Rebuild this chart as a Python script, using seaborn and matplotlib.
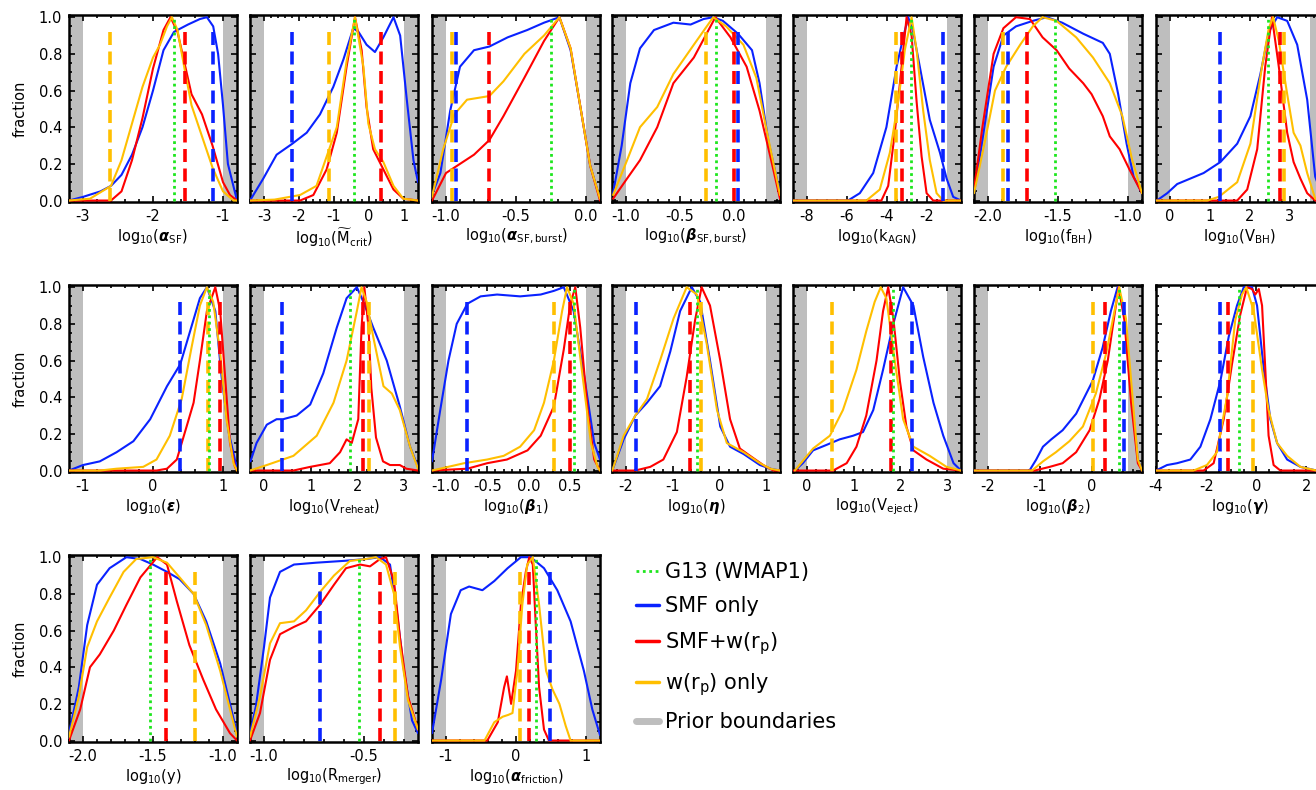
import pandas as pd
import seaborn as sns
import matplotlib.pyplot as plt
from matplotlib.lines import Line2D
from matplotlib.ticker import AutoMinorLocator, FormatStrFormatter

sns.set_theme(style="ticks")
plt.rcParams["font.family"] = ["DejaVu Sans"]
plt.rcParams["mathtext.fontset"] = "dejavusans"
for key in ["text.color", "axes.labelcolor", "xtick.color", "ytick.color", "axes.edgecolor"]:
    plt.rcParams[key] = "black"

# --- posterior curves: (x, fraction) ---
# runs: SMF only (blue), SMF+w(rp) (red), w(rp) only (orange)
ASF_SMF = [(-3.2, 0.0), (-3.0, 0.02), (-2.75, 0.05), (-2.6, 0.08), (-2.45, 0.14), (-2.3, 0.25), (-2.15, 0.40),
           (-2.0, 0.60), (-1.85, 0.82), (-1.7, 0.92), (-1.5, 0.96), (-1.33, 0.99), (-1.23, 1.0), (-1.14, 0.95),
           (-1.07, 0.8), (-1.0, 0.52), (-0.93, 0.2), (-0.8, 0.0)]
ASF_BOTH = [(-3.2, 0.0), (-2.6, 0.0), (-2.45, 0.05), (-2.3, 0.22), (-2.15, 0.45), (-2.0, 0.72), (-1.85, 0.93),
            (-1.75, 1.0), (-1.65, 0.92), (-1.55, 0.75), (-1.45, 0.58), (-1.3, 0.47), (-1.15, 0.30), (-1.0, 0.10),
            (-0.9, 0.03), (-0.8, 0.0)]
ASF_WRP = [(-3.2, 0.0), (-2.9, 0.01), (-2.6, 0.08), (-2.45, 0.22), (-2.3, 0.42), (-2.15, 0.62), (-2.0, 0.78),
           (-1.9, 0.85), (-1.8, 0.95), (-1.73, 1.0), (-1.65, 0.93), (-1.55, 0.72), (-1.45, 0.52), (-1.3, 0.35),
           (-1.15, 0.18), (-1.0, 0.05), (-0.85, 0.0), (-0.8, 0.0)]
ASF_LINES = [-1.70, -1.14, -1.54, -2.61]  # G13, SMF, SMF+w, w

MCRIT_SMF = [(-3.4, 0.0), (-3.02, 0.12), (-2.64, 0.25), (-2.19, 0.31), (-1.78, 0.37), (-1.4, 0.47), (-1.02, 0.62),
             (-0.73, 0.77), (-0.45, 0.94), (-0.3, 0.92), (-0.07, 0.85), (0.17, 0.81), (0.41, 0.89), (0.70, 1.0),
             (0.89, 0.9), (1.08, 0.55), (1.27, 0.22), (1.4, 0.1)]
MCRIT_BOTH = [(-3.4, 0.0), (-1.97, 0.0), (-1.59, 0.03), (-1.21, 0.17), (-0.92, 0.37), (-0.64, 0.73), (-0.4, 1.0),
              (-0.21, 0.82), (-0.07, 0.51), (0.12, 0.28), (0.41, 0.17), (0.7, 0.06), (0.98, 0.01), (1.4, 0.0)]
MCRIT_WRP = [(-3.4, 0.0), (-2.7, 0.005), (-1.97, 0.03), (-1.5, 0.08), (-1.21, 0.24), (-0.92, 0.40), (-0.64, 0.76),
             (-0.4, 1.0), (-0.16, 0.73), (-0.02, 0.42), (0.17, 0.28), (0.41, 0.21), (0.7, 0.08), (0.98, 0.01),
             (1.4, 0.0)]
MCRIT_LINES = [-0.42, -2.19, 0.34, -1.13]

ASB_SMF = [(-1.1, 0.03), (-1.04, 0.15), (-0.97, 0.49), (-0.9, 0.73), (-0.8, 0.82), (-0.69, 0.84), (-0.56, 0.89),
           (-0.42, 0.93), (-0.3, 0.97), (-0.19, 1.0), (-0.11, 0.82), (-0.04, 0.51), (0.03, 0.19), (0.1, 0.01)]
ASB_BOTH = [(-1.1, 0.0), (-1.0, 0.15), (-0.92, 0.19), (-0.8, 0.25), (-0.69, 0.33), (-0.59, 0.46), (-0.44, 0.67),
            (-0.3, 0.87), (-0.19, 1.0), (-0.11, 0.83), (-0.04, 0.51), (0.03, 0.19), (0.1, 0.0)]
ASB_WRP = [(-1.1, 0.02), (-1.02, 0.28), (-0.94, 0.47), (-0.85, 0.55), (-0.69, 0.57), (-0.59, 0.65), (-0.44, 0.80),
           (-0.3, 0.90), (-0.19, 1.0), (-0.11, 0.83), (-0.04, 0.51), (0.03, 0.19), (0.1, 0.01)]
ASB_LINES = [-0.25, -0.93, -0.69, -0.96]

BSB_SMF = [(-1.12, 0.04), (-1.04, 0.30), (-0.96, 0.64), (-0.87, 0.83), (-0.74, 0.93), (-0.56, 0.97), (-0.40, 0.96),
           (-0.28, 0.99), (-0.19, 1.0), (-0.10, 0.98), (0.04, 0.91), (0.17, 0.82), (0.24, 0.64), (0.32, 0.33),
           (0.43, 0.04)]
BSB_BOTH = [(-1.12, 0.01), (-0.99, 0.12), (-0.87, 0.22), (-0.71, 0.40), (-0.56, 0.64), (-0.37, 0.78), (-0.17, 1.0),
            (-0.03, 0.89), (0.12, 0.73), (0.24, 0.49), (0.34, 0.24), (0.43, 0.01)]
BSB_WRP = [(-1.12, 0.03), (-0.99, 0.22), (-0.87, 0.40), (-0.71, 0.51), (-0.56, 0.69), (-0.37, 0.85), (-0.19, 1.0),
           (-0.07, 0.95), (0.09, 0.85), (0.21, 0.67), (0.31, 0.37), (0.43, 0.03)]
BSB_LINES = [-0.16, 0.04, 0.0, -0.26]

KAGN_SMF = [(-8.7, 0.0), (-5.95, 0.0), (-5.36, 0.04), (-4.69, 0.15), (-4.03, 0.40), (-3.52, 0.73), (-3.19, 0.89),
            (-2.94, 1.0), (-2.69, 0.92), (-2.36, 0.73), (-1.86, 0.44), (-1.35, 0.26), (-1.02, 0.12), (-0.69, 0.02),
            (-0.3, 0.0)]
KAGN_BOTH = [(-8.7, 0.0), (-4.28, 0.0), (-3.94, 0.08), (-3.61, 0.37), (-3.27, 0.73), (-3.02, 1.0), (-2.77, 0.9),
             (-2.52, 0.54), (-2.27, 0.24), (-2.02, 0.04), (-1.69, 0.0), (-0.3, 0.0)]
KAGN_WRP = [(-8.7, 0.0), (-5.03, 0.0), (-4.36, 0.06), (-3.86, 0.26), (-3.44, 0.54), (-3.11, 0.82), (-2.77, 1.0),
            (-2.52, 0.82), (-2.19, 0.49), (-1.86, 0.22), (-1.52, 0.04), (-1.19, 0.0), (-0.3, 0.0)]
KAGN_LINES = [-2.82, -1.19, -3.24, -3.56]

FBH_SMF = [(-2.1, 0.04), (-2.04, 0.33), (-1.96, 0.73), (-1.89, 0.90), (-1.80, 0.95), (-1.68, 0.98), (-1.58, 1.0),
           (-1.47, 0.97), (-1.32, 0.91), (-1.18, 0.86), (-1.13, 0.80), (-1.07, 0.58), (-1.01, 0.31), (-0.96, 0.13),
           (-0.9, 0.04)]
FBH_BOTH = [(-2.1, 0.06), (-2.04, 0.40), (-1.96, 0.80), (-1.89, 0.94), (-1.80, 1.0), (-1.70, 0.99), (-1.61, 0.89),
            (-1.51, 0.82), (-1.42, 0.72), (-1.32, 0.64), (-1.26, 0.58), (-1.18, 0.46), (-1.13, 0.35), (-1.06, 0.28),
            (-0.99, 0.17), (-0.9, 0.04)]
FBH_WRP = [(-2.1, 0.04), (-2.02, 0.33), (-1.95, 0.60), (-1.87, 0.73), (-1.77, 0.85), (-1.68, 0.95), (-1.61, 1.0),
           (-1.51, 0.98), (-1.37, 0.89), (-1.25, 0.78), (-1.13, 0.64), (-1.04, 0.46), (-0.97, 0.22), (-0.9, 0.04)]
FBH_LINES = [-1.52, -1.86, -1.72, -1.89]

VBH_SMF = [(-0.33, 0.0), (-0.07, 0.04), (0.18, 0.09), (0.51, 0.12), (0.84, 0.15), (1.26, 0.21), (1.68, 0.31),
           (2.01, 0.46), (2.26, 0.69), (2.47, 0.92), (2.68, 1.0), (2.93, 0.98), (3.18, 0.85), (3.43, 0.55),
           (3.63, 0.13), (3.85, 0.0)]
VBH_BOTH = [(-0.35, 0.0), (1.68, 0.0), (1.93, 0.06), (2.18, 0.28), (2.38, 0.73), (2.55, 1.0), (2.72, 0.73),
            (2.93, 0.37), (3.09, 0.21), (3.26, 0.12), (3.43, 0.04), (3.63, 0.0), (3.85, 0.0)]
VBH_WRP = [(-0.35, 0.0), (0.93, 0.0), (1.22, 0.02), (1.68, 0.10), (2.01, 0.31), (2.3, 0.73), (2.47, 0.94),
           (2.58, 1.0), (2.72, 0.87), (2.93, 0.58), (3.09, 0.37), (3.26, 0.30), (3.43, 0.15), (3.63, 0.01),
           (3.85, 0.0)]
VBH_LINES = [2.45, 1.26, 2.76, 2.86]

EPS_SMF = [(-1.2, 0.0), (-1.0, 0.03), (-0.76, 0.05), (-0.52, 0.10), (-0.28, 0.16), (-0.04, 0.28), (0.2, 0.46),
           (0.39, 0.58), (0.53, 0.76), (0.67, 0.94), (0.77, 1.0), (0.89, 0.87), (0.98, 0.51), (1.08, 0.21),
           (1.2, 0.01)]
EPS_BOTH = [(-1.2, 0.0), (0.05, 0.0), (0.2, 0.01), (0.34, 0.06), (0.48, 0.24), (0.58, 0.37), (0.67, 0.60),
            (0.77, 0.87), (0.89, 1.0), (0.96, 0.87), (1.03, 0.51), (1.1, 0.15), (1.17, 0.02), (1.2, 0.0)]
EPS_WRP = [(-1.2, 0.0), (-0.76, 0.0), (-0.52, 0.01), (-0.14, 0.02), (0.05, 0.06), (0.24, 0.19), (0.41, 0.39),
           (0.55, 0.67), (0.67, 0.90), (0.77, 1.0), (0.86, 0.92), (0.96, 0.64), (1.05, 0.28), (1.15, 0.04),
           (1.2, 0.0)]
EPS_LINES = [0.80, 0.39, 0.96, 0.79]

VRH_SMF = [(-0.29, 0.05), (-0.16, 0.15), (0.06, 0.25), (0.27, 0.28), (0.41, 0.28), (0.7, 0.30), (0.99, 0.36),
           (1.27, 0.53), (1.56, 0.78), (1.77, 0.94), (1.99, 1.0), (2.13, 0.92), (2.34, 0.78), (2.63, 0.6),
           (2.91, 0.35), (3.13, 0.13), (3.3, 0.02)]
VRH_BOTH = [(-0.3, 0.0), (0.63, 0.0), (0.99, 0.02), (1.41, 0.04), (1.63, 0.10), (1.77, 0.17), (1.88, 0.15),
            (2.02, 0.28), (2.09, 0.78), (2.15, 1.0), (2.24, 0.78), (2.3, 0.45), (2.4, 0.18), (2.55, 0.05),
            (2.7, 0.03), (2.91, 0.03), (3.05, 0.01), (3.3, 0.0)]
VRH_WRP = [(-0.3, 0.0), (0.06, 0.03), (0.63, 0.08), (1.13, 0.19), (1.49, 0.37), (1.77, 0.60), (1.99, 0.87),
           (2.09, 1.0), (2.2, 0.92), (2.34, 0.73), (2.56, 0.46), (2.74, 0.42), (2.91, 0.33), (3.13, 0.13),
           (3.3, 0.01)]
VRH_LINES = [1.84, 0.38, 2.13, 2.24]

B1_SMF = [(-1.17, 0.05), (-1.07, 0.33), (-0.97, 0.60), (-0.87, 0.80), (-0.74, 0.91), (-0.58, 0.95), (-0.38, 0.96),
          (-0.10, 0.95), (0.15, 0.96), (0.31, 0.98), (0.43, 1.0), (0.55, 0.87), (0.68, 0.51), (0.80, 0.15),
          (0.87, 0.06)]
B1_BOTH = [(-1.17, 0.0), (-0.74, 0.01), (-0.5, 0.04), (-0.26, 0.06), (-0.01, 0.11), (0.15, 0.19), (0.31, 0.35),
           (0.43, 0.66), (0.51, 0.91), (0.57, 1.0), (0.63, 0.78), (0.72, 0.33), (0.80, 0.06), (0.87, 0.0)]
B1_WRP = [(-1.17, 0.0), (-0.78, 0.04), (-0.50, 0.06), (-0.30, 0.08), (-0.10, 0.13), (0.07, 0.22), (0.19, 0.37),
          (0.31, 0.60), (0.41, 0.87), (0.47, 1.0), (0.55, 0.91), (0.66, 0.51), (0.76, 0.15), (0.84, 0.02),
          (0.87, 0.0)]
B1_LINES = [0.55, -0.74, 0.51, 0.31]

ETA_SMF = [(-2.3, 0.0), (-2.28, 0.01), (-2.05, 0.17), (-1.8, 0.30), (-1.55, 0.37), (-1.27, 0.46), (-1.05, 0.65),
           (-0.84, 0.87), (-0.59, 1.0), (-0.41, 0.92), (-0.2, 0.60), (0.02, 0.24), (0.23, 0.13), (0.52, 0.09),
           (0.87, 0.03), (1.09, 0.01), (1.3, 0.0)]
ETA_BOTH = [(-2.3, 0.0), (-1.8, 0.0), (-1.48, 0.02), (-1.2, 0.06), (-0.91, 0.21), (-0.70, 0.51), (-0.52, 0.82),
            (-0.38, 1.0), (-0.2, 0.90), (0.02, 0.60), (0.23, 0.28), (0.44, 0.12), (0.66, 0.08), (0.94, 0.03),
            (1.16, 0.0), (1.3, 0.0)]
ETA_WRP = [(-2.3, 0.0), (-2.28, 0.01), (-2.05, 0.19), (-1.8, 0.30), (-1.55, 0.39), (-1.27, 0.60), (-0.98, 0.83),
           (-0.70, 1.0), (-0.48, 0.96), (-0.27, 0.69), (-0.05, 0.33), (0.16, 0.15), (0.52, 0.10), (0.87, 0.04),
           (1.09, 0.01), (1.3, 0.0)]
ETA_LINES = [-0.48, -1.79, -0.62, -0.40]

VEJ_SMF = [(-0.26, 0.0), (-0.09, 0.04), (0.13, 0.11), (0.42, 0.14), (0.70, 0.17), (0.99, 0.19), (1.2, 0.21),
           (1.42, 0.33), (1.63, 0.55), (1.85, 0.80), (2.06, 1.0), (2.28, 0.90), (2.49, 0.62), (2.71, 0.37),
           (2.92, 0.19), (3.14, 0.04), (3.3, 0.0)]
VEJ_BOTH = [(-0.3, 0.0), (0.56, 0.0), (0.85, 0.04), (1.06, 0.13), (1.27, 0.30), (1.49, 0.60), (1.63, 0.87),
            (1.74, 1.0), (1.85, 0.83), (1.99, 0.49), (2.13, 0.24), (2.28, 0.11), (2.56, 0.06), (2.92, 0.01),
            (3.3, 0.0)]
VEJ_WRP = [(-0.26, 0.0), (0.13, 0.12), (0.49, 0.19), (0.77, 0.33), (1.06, 0.55), (1.27, 0.76), (1.45, 0.92),
           (1.58, 1.0), (1.7, 0.94), (1.88, 0.60), (2.06, 0.28), (2.28, 0.13), (2.63, 0.08), (2.99, 0.02),
           (3.3, 0.0)]
VEJ_LINES = [1.85, 2.26, 1.81, 0.54]

B2_SMF = [(-2.27, 0.0), (-1.2, 0.0), (-1.07, 0.06), (-0.94, 0.13), (-0.78, 0.17), (-0.56, 0.22), (-0.30, 0.31),
          (0.02, 0.49), (0.21, 0.67), (0.37, 0.87), (0.5, 1.0), (0.63, 0.87), (0.76, 0.42), (0.89, 0.06),
          (0.97, 0.0)]
B2_BOTH = [(-2.27, 0.0), (-1.1, 0.0), (-0.81, 0.02), (-0.56, 0.04), (-0.30, 0.10), (-0.04, 0.22), (0.15, 0.39),
           (0.31, 0.60), (0.44, 0.85), (0.52, 1.0), (0.63, 0.82), (0.76, 0.37), (0.89, 0.04), (0.97, 0.0)]
B2_WRP = [(-2.27, 0.0), (-1.15, 0.0), (-0.94, 0.05), (-0.69, 0.10), (-0.43, 0.16), (-0.17, 0.24), (0.08, 0.42),
          (0.28, 0.64), (0.44, 0.87), (0.53, 1.0), (0.66, 0.83), (0.79, 0.39), (0.89, 0.06), (0.97, 0.0)]
B2_LINES = [0.53, 0.62, 0.26, 0.02]

GAM_SMF = [(-4.0, 0.0), (-3.56, 0.03), (-3.16, 0.04), (-2.63, 0.06), (-2.23, 0.13), (-1.83, 0.28), (-1.43, 0.49),
           (-1.1, 0.73), (-0.77, 0.90), (-0.5, 1.0), (-0.17, 1.0), (0.03, 0.9), (0.3, 0.55), (0.56, 0.28),
           (0.83, 0.15), (1.23, 0.06), (1.76, 0.02), (2.4, 0.0)]
GAM_BOTH = [(-4.0, 0.0), (-2.1, 0.0), (-1.7, 0.04), (-1.3, 0.28), (-0.97, 0.58), (-0.64, 0.85), (-0.37, 1.0),
            (-0.17, 0.99), (-0.04, 0.96), (0.1, 0.99), (0.23, 0.9), (0.36, 0.55), (0.49, 0.19), (0.69, 0.03),
            (0.96, 0.0), (2.7, 0.0)]
GAM_WRP = [(-4.0, 0.0), (-2.5, 0.0), (-1.97, 0.03), (-1.57, 0.10), (-1.17, 0.40), (-0.84, 0.82), (-0.57, 0.96),
           (-0.4, 1.0), (-0.10, 0.87), (0.23, 0.55), (0.49, 0.33), (0.83, 0.15), (1.23, 0.08), (1.76, 0.02),
           (2.4, 0.0)]
GAM_LINES = [-0.68, -1.46, -1.13, -0.14]

Y_SMF = [(-2.1, 0.04), (-2.03, 0.29), (-1.97, 0.63), (-1.9, 0.85), (-1.81, 0.94), (-1.69, 1.0), (-1.59, 0.99),
         (-1.5, 0.96), (-1.4, 0.92), (-1.31, 0.88), (-1.21, 0.80), (-1.12, 0.65), (-1.02, 0.42), (-0.95, 0.20),
         (-0.9, 0.04)]
Y_BOTH = [(-2.1, 0.0), (-2.02, 0.17), (-1.95, 0.40), (-1.88, 0.47), (-1.78, 0.60), (-1.69, 0.74), (-1.59, 0.89),
          (-1.47, 1.0), (-1.4, 0.96), (-1.33, 0.76), (-1.24, 0.52), (-1.14, 0.33), (-1.05, 0.17), (-0.95, 0.04),
          (-0.9, 0.0)]
Y_WRP = [(-2.1, 0.02), (-2.03, 0.24), (-1.97, 0.51), (-1.9, 0.65), (-1.81, 0.78), (-1.71, 0.92), (-1.62, 0.99),
         (-1.5, 1.0), (-1.4, 0.97), (-1.31, 0.89), (-1.21, 0.80), (-1.12, 0.63), (-1.02, 0.38), (-0.95, 0.17),
         (-0.9, 0.02)]
Y_LINES = [-1.52, None, -1.41, -1.2]

RM_SMF = [(-1.07, 0.04), (-1.04, 0.19), (-1.0, 0.51), (-0.97, 0.78), (-0.92, 0.92), (-0.85, 0.96), (-0.74, 0.97),
          (-0.60, 0.98), (-0.49, 0.99), (-0.42, 1.0), (-0.37, 0.96), (-0.34, 0.74), (-0.30, 0.38), (-0.26, 0.11),
          (-0.23, 0.04)]
RM_BOTH = [(-1.07, 0.0), (-1.02, 0.15), (-0.97, 0.44), (-0.92, 0.58), (-0.85, 0.62), (-0.79, 0.65), (-0.72, 0.74),
           (-0.65, 0.85), (-0.59, 0.94), (-0.52, 0.96), (-0.47, 0.95), (-0.42, 0.99), (-0.39, 1.0), (-0.35, 0.87),
           (-0.32, 0.56), (-0.28, 0.24), (-0.23, 0.06)]
RM_WRP = [(-1.07, 0.02), (-1.02, 0.24), (-0.97, 0.53), (-0.92, 0.64), (-0.85, 0.65), (-0.79, 0.71), (-0.72, 0.81),
          (-0.65, 0.90), (-0.57, 0.98), (-0.49, 0.99), (-0.44, 1.0), (-0.39, 0.96), (-0.35, 0.80), (-0.32, 0.51),
          (-0.28, 0.22), (-0.23, 0.06)]
RM_LINES = [-0.525, -0.72, -0.42, -0.345]

AF_SMF = [(-1.2, 0.04), (-1.07, 0.33), (-0.93, 0.69), (-0.79, 0.82), (-0.67, 0.84), (-0.48, 0.82), (-0.31, 0.87),
          (-0.12, 0.94), (0.07, 1.0), (0.21, 1.0), (0.4, 0.94), (0.59, 0.82), (0.78, 0.65), (0.97, 0.38),
          (1.09, 0.17), (1.2, 0.03)]
AF_BOTH = [(-1.2, 0.0), (-0.41, 0.0), (-0.26, 0.10), (-0.17, 0.29), (-0.13, 0.35), (-0.07, 0.20), (0.0, 0.38),
           (0.07, 0.74), (0.14, 0.92), (0.19, 1.0), (0.24, 0.96), (0.28, 0.65), (0.33, 0.29), (0.40, 0.06),
           (0.47, 0.0), (1.2, 0.0)]
AF_WRP = [(-1.2, 0.0), (-0.45, 0.0), (-0.31, 0.10), (-0.19, 0.13), (-0.11, 0.14), (-0.05, 0.15), (0.02, 0.38),
          (0.09, 0.74), (0.16, 0.96), (0.24, 1.0), (0.33, 0.74), (0.43, 0.38), (0.52, 0.28), (0.62, 0.20),
          (0.71, 0.08), (0.78, 0.0), (1.2, 0.0)]
AF_LINES = [0.29, 0.49, 0.19, 0.05]

RUNS = ["SMF only", "SMF+w(rp)", "w(rp) only"]
COLORS = {"SMF only": "#0a22ff", "SMF+w(rp)": "#ff0000", "w(rp) only": "#ffbf00"}
G13_COLOR = "#1ee61e"
PRIOR_COLOR = "#bebebe"


def bold(s):
    return r"\boldsymbol{" + s + "}"


# label, prior range, x-limits (None -> prior +-10%), ticks, tick format, curves, lines
PANELS = [
    (r"log$_{10}$($%s_{\rm SF}$)" % bold(r"\alpha"), (-3, -1), None, [-3, -2, -1], "%d", (ASF_SMF, ASF_BOTH, ASF_WRP), ASF_LINES),
    (r"log$_{10}$($\widetilde{\rm M}_{\rm crit}$)", (-3, 1), None, [-3, -2, -1, 0, 1], "%d", (MCRIT_SMF, MCRIT_BOTH, MCRIT_WRP), MCRIT_LINES),
    (r"log$_{10}$($%s_{\rm SF,burst}$)" % bold(r"\alpha"), (-1, 0), None, [-1.0, -0.5, 0.0], "%.1f", (ASB_SMF, ASB_BOTH, ASB_WRP), ASB_LINES),
    (r"log$_{10}$($%s_{\rm SF,burst}$)" % bold(r"\beta"), (-1, 0.3), None, [-1.0, -0.5, 0.0], "%.1f", (BSB_SMF, BSB_BOTH, BSB_WRP), BSB_LINES),
    (r"log$_{10}$(k$_{\rm AGN}$)", (-8, -1), None, [-8, -6, -4, -2], "%d", (KAGN_SMF, KAGN_BOTH, KAGN_WRP), KAGN_LINES),
    (r"log$_{10}$(f$_{\rm BH}$)", (-2, -1), None, [-2.0, -1.5, -1.0], "%.1f", (FBH_SMF, FBH_BOTH, FBH_WRP), FBH_LINES),
    (r"log$_{10}$(V$_{\rm BH}$)", (0, 3.5), None, [0, 1, 2, 3], "%d", (VBH_SMF, VBH_BOTH, VBH_WRP), VBH_LINES),
    (r"log$_{10}$($%s$)" % bold(r"\epsilon"), (-1, 1), None, [-1, 0, 1], "%d", (EPS_SMF, EPS_BOTH, EPS_WRP), EPS_LINES),
    (r"log$_{10}$(V$_{\rm reheat}$)", (0, 3), None, [0, 1, 2, 3], "%d", (VRH_SMF, VRH_BOTH, VRH_WRP), VRH_LINES),
    (r"log$_{10}$($%s_1$)" % bold(r"\beta"), (-1, 0.7), None, [-1.0, -0.5, 0.0, 0.5], "%.1f", (B1_SMF, B1_BOTH, B1_WRP), B1_LINES),
    (r"log$_{10}$($%s$)" % bold(r"\eta"), (-2, 1), None, [-2, -1, 0, 1], "%d", (ETA_SMF, ETA_BOTH, ETA_WRP), ETA_LINES),
    (r"log$_{10}$(V$_{\rm eject}$)", (0, 3), None, [0, 1, 2, 3], "%d", (VEJ_SMF, VEJ_BOTH, VEJ_WRP), VEJ_LINES),
    (r"log$_{10}$($%s_2$)" % bold(r"\beta"), (-2, 0.7), None, [-2, -1, 0], "%d", (B2_SMF, B2_BOTH, B2_WRP), B2_LINES),
    (r"log$_{10}$($%s$)" % bold(r"\gamma"), None, (-4.0, 2.7), [-4, -2, 0, 2], "%d", (GAM_SMF, GAM_BOTH, GAM_WRP), GAM_LINES),
    (r"log$_{10}$(y)", (-2, -1), None, [-2.0, -1.5, -1.0], "%.1f", (Y_SMF, Y_BOTH, Y_WRP), Y_LINES),
    (r"log$_{10}$(R$_{\rm merger}$)", (-1, -0.3), None, [-1.0, -0.5], "%.1f", (RM_SMF, RM_BOTH, RM_WRP), RM_LINES),
    (r"log$_{10}$($%s_{\rm friction}$)" % bold(r"\alpha"), (-1, 1), None, [-1, 0, 1], "%d", (AF_SMF, AF_BOTH, AF_WRP), AF_LINES),
]

W, H = 1316, 790
fig = plt.figure(figsize=(W / 100, H / 100), dpi=100)
col_left = [69, 250, 432, 612, 793, 974, 1156]
row_top = [15, 285, 555]
pw, ph = 168, 187

dash_style = (0, (3.6, 1.8))
dot_style = (0, (1, 1.3))

for i, (label, prior, xlim, ticks, fmt, curves, lines) in enumerate(PANELS):
    r, c = divmod(i, 7)
    ax = fig.add_axes([col_left[c] / W, 1 - (row_top[r] + ph) / H, pw / W, ph / H])
    if xlim is None:
        pad = 0.1 * (prior[1] - prior[0])
        xlim = (prior[0] - pad, prior[1] + pad)
    ax.set_xlim(*xlim)
    ax.set_ylim(-0.008, 1.012)
    if prior is not None:
        ax.axvspan(xlim[0], prior[0], color=PRIOR_COLOR, lw=0, zorder=0)
        ax.axvspan(prior[1], xlim[1], color=PRIOR_COLOR, lw=0, zorder=0)

    frames = []
    for run, pts in zip(RUNS, curves):
        d = pd.DataFrame(pts, columns=["x", "frac"])
        d["run"] = run
        frames.append(d)
    df = pd.concat(frames, ignore_index=True)
    sns.lineplot(data=df, x="x", y="frac", hue="run", palette=COLORS, sort=False,
                 estimator=None, legend=False, lw=1.5, ax=ax, zorder=3)

    g13, smf, both, wrp = lines
    for xv, col in [(smf, COLORS["SMF only"]), (both, COLORS["SMF+w(rp)"]), (wrp, COLORS["w(rp) only"])]:
        if xv is not None:
            ax.vlines(xv, 0.0, 0.93, colors=col, linestyles=dash_style, lw=2.6, zorder=4)
    ax.vlines(g13, 0.0, 1.0, colors=G13_COLOR, linestyles=dot_style, lw=2.0, zorder=5)

    ax.set_xticks(ticks)
    ax.xaxis.set_major_formatter(FormatStrFormatter(fmt))
    ax.set_yticks([0.0, 0.2, 0.4, 0.6, 0.8, 1.0])
    ax.xaxis.set_minor_locator(AutoMinorLocator())
    ax.yaxis.set_minor_locator(AutoMinorLocator(4))
    ax.tick_params(which="both", direction="in", top=True, right=True, labelsize=10.5, width=1.2)
    ax.tick_params(which="major", length=4.5, pad=5)
    ax.tick_params(which="minor", length=2.5)
    for sp in ax.spines.values():
        sp.set_linewidth(1.8)
        sp.set_color("black")
    ax.set_xlabel(label, fontsize=10.5, labelpad=2)
    if c == 0:
        ax.yaxis.set_major_formatter(FormatStrFormatter("%.1f"))
        ax.set_ylabel("fraction", fontsize=10.5, labelpad=8)
    else:
        ax.set_yticklabels([])
        ax.set_ylabel("")

handles = [
    Line2D([], [], color=G13_COLOR, linestyle=dot_style, lw=2.0),
    Line2D([], [], color=COLORS["SMF only"], lw=2.5),
    Line2D([], [], color=COLORS["SMF+w(rp)"], lw=2.5),
    Line2D([], [], color=COLORS["w(rp) only"], lw=2.5),
    Line2D([], [], color=PRIOR_COLOR, lw=5),
]
labels = ["G13 (WMAP1)", "SMF only", r"SMF+w(r$_{\rm p}$)", r"w(r$_{\rm p}$) only", "Prior boundaries"]
fig.legend(handles, labels, loc="upper left", bbox_to_anchor=(636 / W, 1 - 562 / H), frameon=False,
           fontsize=15, handlelength=1.1, handletextpad=0.3, labelspacing=0.68, borderaxespad=0, borderpad=0)

fig.savefig("out.png", dpi=100)
